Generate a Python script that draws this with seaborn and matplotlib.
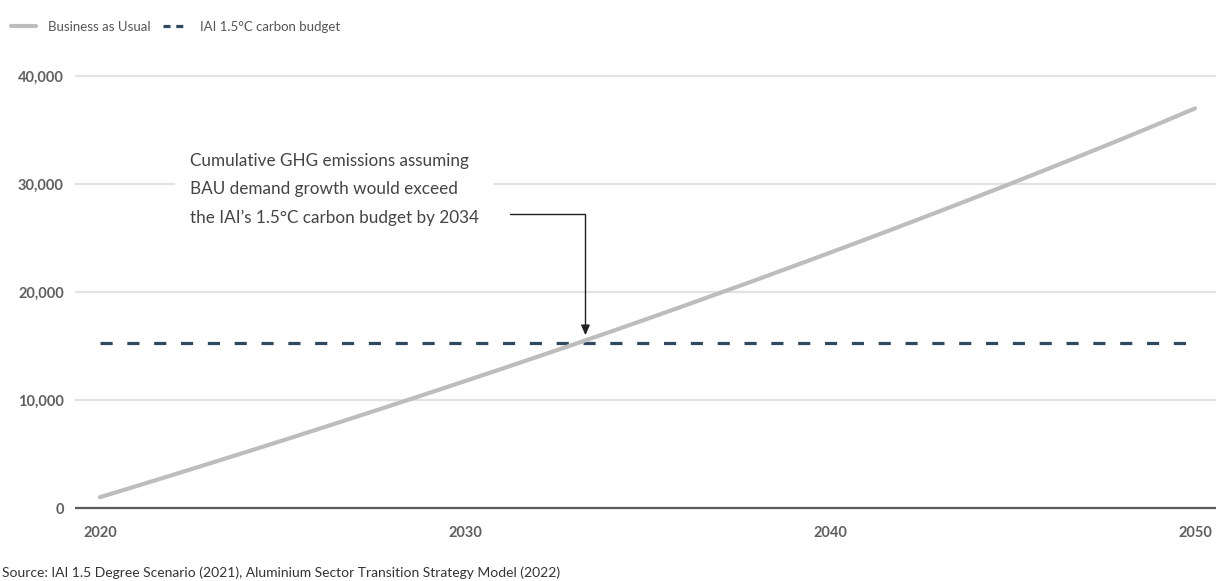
import matplotlib
matplotlib.use("Agg")
import matplotlib.pyplot as plt
from matplotlib.lines import Line2D
import seaborn as sns
import pandas as pd

# ---- data ----
years = list(range(2020, 2051))
bau = [1000, 2030, 3070, 4120, 5180, 6250, 7330, 8420, 9520, 10630,
       11750, 12880, 14020, 15170, 16340, 17520, 18720, 19930, 21150, 22390,
       23640, 24900, 26180, 27470, 28780, 30100, 31440, 32800, 34170, 35570,
       37000]
budget_years = [2020, 2050]
budget_value = 15300
x_ticks = [2020, 2030, 2040, 2050]
y_ticks = [0, 10000, 20000, 30000, 40000]
y_tick_labels = ["0", "10,000", "20,000", "30,000", "40,000"]
series_names = ["Business as Usual", "IAI 1.5°C carbon budget"]
annotation_text = ("Cumulative GHG emissions assuming\n"
                   "BAU demand growth would exceed\n"
                   "the IAI\u2019s 1.5°C carbon budget by 2034")
crossing_year = 2033.3
source_text = ("Source: IAI 1.5 Degree Scenario (2021), Aluminium Sector "
               "Transition Strategy Model (2022)")

sns.set_theme(style="white")
plt.rcParams["font.family"] = ["Lato", "DejaVu Sans"]

bau_df = pd.DataFrame({"year": years, "value": bau})
budget_df = pd.DataFrame({"year": budget_years,
                          "value": [budget_value] * len(budget_years)})

BAU_C = "#bdbdbd"
BUD_C = "#2d4a60"

fig = plt.figure(figsize=(12.16, 5.81), dpi=100)
ax = fig.add_axes([75 / 1216, 1 - 512 / 581, 1 - 75 / 1216, (512 - 70) / 581])

grid_c = "#e2e2e2"
for yt in y_ticks[1:]:
    ax.axhline(yt, color=grid_c, lw=1.6, zorder=0)
ax.axhline(0, color="#5a5a5a", lw=1.6, zorder=1)

sns.lineplot(data=bau_df, x="year", y="value", ax=ax, color=BAU_C,
             lw=3.0, zorder=3)
sns.lineplot(data=budget_df, x="year", y="value", ax=ax, color=BUD_C,
             lw=2.3, zorder=2)
ax.lines[-1].set_dashes((3.8, 4.6))

px_per_unit = 432 / 40000
ax.set_ylim(-4 / px_per_unit, 40000 + 6 / px_per_unit)
x0 = 2020 - 25 / 36.5
ax.set_xlim(x0, 2050 + 21 / 36.5)

def px_to_year(px):
    return x0 + (px - 75) / 36.5

for s in ax.spines.values():
    s.set_visible(False)
ax.set_xticks(x_ticks)
ax.set_xticklabels([str(x) for x in x_ticks])
ax.set_yticks(y_ticks)
ax.set_yticklabels(y_tick_labels)
ax.tick_params(axis="y", length=0, pad=8, labelsize=10.5, labelcolor="#606060")
ax.tick_params(axis="x", length=0, pad=10, labelsize=10.5, labelcolor="#606060")
for lbl in ax.get_xticklabels() + ax.get_yticklabels():
    lbl.set_fontweight("bold")
ax.set_xlabel("")
ax.set_ylabel("")

# annotation
ax.text(px_to_year(190), 29500, annotation_text, ha="left", va="center",
        fontsize=12.3, color="#444444", linespacing=1.95, zorder=4,
        bbox=dict(boxstyle="square,pad=0.9", fc="white", ec="none"))
ax.annotate("", xy=(crossing_year, 16000), xytext=(px_to_year(510), 27200),
            arrowprops=dict(arrowstyle="-|>,head_length=0.5,head_width=0.22",
                            color="#222222", lw=1.0, shrinkA=0, shrinkB=0,
                            connectionstyle="angle,angleA=0,angleB=90,rad=0"),
            zorder=5)

# legend
handles = [Line2D([], [], color=BAU_C, lw=3.0),
           Line2D([], [], color=BUD_C, lw=2.3, dashes=(2.2, 1.8))]
fig.legend(handles, series_names, loc="center left",
           bbox_to_anchor=(8 / 1216, 1 - 27 / 581),
           ncol=2, frameon=False, fontsize=9.5, handlelength=1.9,
           handletextpad=0.9, columnspacing=1.0, labelcolor="#555555",
           borderaxespad=0, borderpad=0.2)

fig.text(0.002, 1 - 573 / 581, source_text, ha="left", va="center",
         fontsize=10, color="#333333")

fig.savefig("out.png", dpi=100)
